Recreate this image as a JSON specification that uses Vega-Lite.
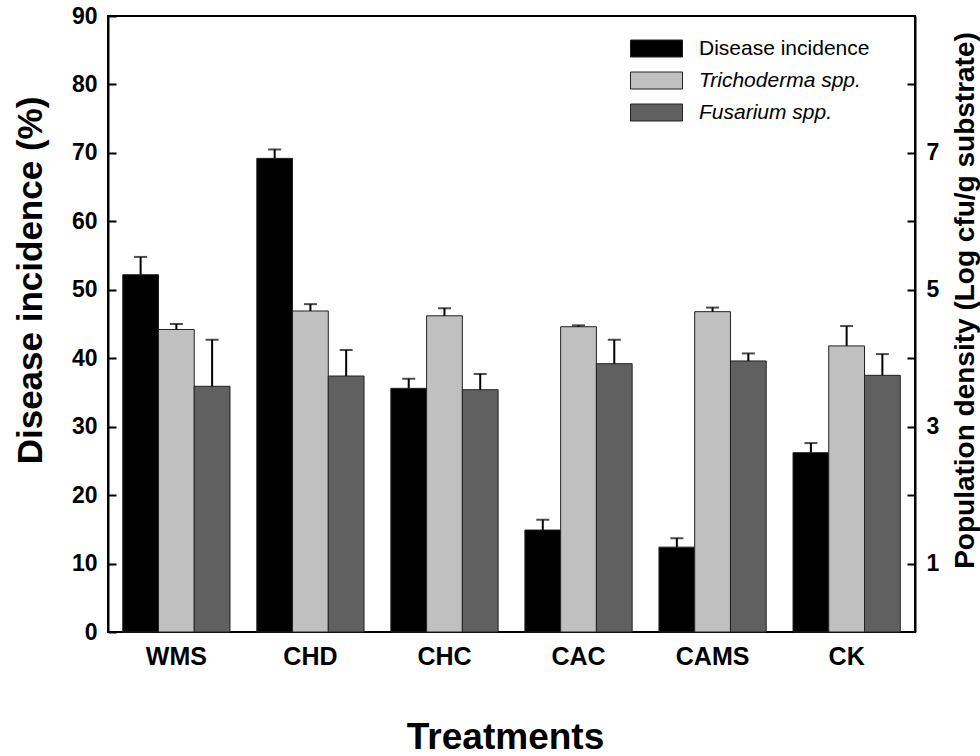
{
  "$schema": "https://vega.github.io/schema/vega-lite/v6.json",
  "width": 807,
  "height": 616,
  "autosize": "none",
  "padding": {"left": 108, "top": 16, "right": 65, "bottom": 124},
  "background": "white",
  "config": {
    "view": {"stroke": "black", "strokeWidth": 2},
    "font": "Liberation Sans"
  },
  "data": {
    "values": [
      {"treatment": "WMS", "series": "Disease incidence", "value": 52.2, "top": 54.8},
      {"treatment": "WMS", "series": "Trichoderma spp.", "value": 4.42, "top": 4.50},
      {"treatment": "WMS", "series": "Fusarium spp.", "value": 3.59, "top": 4.27},
      {"treatment": "CHD", "series": "Disease incidence", "value": 69.2, "top": 70.5},
      {"treatment": "CHD", "series": "Trichoderma spp.", "value": 4.69, "top": 4.79},
      {"treatment": "CHD", "series": "Fusarium spp.", "value": 3.74, "top": 4.12},
      {"treatment": "CHC", "series": "Disease incidence", "value": 35.6, "top": 37.0},
      {"treatment": "CHC", "series": "Trichoderma spp.", "value": 4.62, "top": 4.73},
      {"treatment": "CHC", "series": "Fusarium spp.", "value": 3.54, "top": 3.77},
      {"treatment": "CAC", "series": "Disease incidence", "value": 14.9, "top": 16.4},
      {"treatment": "CAC", "series": "Trichoderma spp.", "value": 4.46, "top": 4.48},
      {"treatment": "CAC", "series": "Fusarium spp.", "value": 3.92, "top": 4.27},
      {"treatment": "CAMS", "series": "Disease incidence", "value": 12.4, "top": 13.7},
      {"treatment": "CAMS", "series": "Trichoderma spp.", "value": 4.68, "top": 4.74},
      {"treatment": "CAMS", "series": "Fusarium spp.", "value": 3.96, "top": 4.07},
      {"treatment": "CK", "series": "Disease incidence", "value": 26.2, "top": 27.6},
      {"treatment": "CK", "series": "Trichoderma spp.", "value": 4.18, "top": 4.47},
      {"treatment": "CK", "series": "Fusarium spp.", "value": 3.75, "top": 4.06}
    ]
  },
  "encoding": {
    "x": {
      "field": "treatment",
      "type": "nominal",
      "sort": ["WMS", "CHD", "CHC", "CAC", "CAMS", "CK"],
      "scale": {"paddingInner": 0.2, "paddingOuter": 0.11},
      "axis": {
        "title": "Treatments",
        "labelAngle": 0,
        "ticks": false,
        "domain": false,
        "labelFontSize": 25,
        "labelFontWeight": "bold",
        "labelColor": "black",
        "labelPadding": 12,
        "titleFontSize": 37,
        "titleFontWeight": "bold",
        "titleColor": "black",
        "titlePadding": 50,
        "titleX": 397
      }
    },
    "xOffset": {
      "field": "series",
      "type": "nominal",
      "scale": {"domain": ["Disease incidence", "Trichoderma spp.", "Fusarium spp."], "paddingInner": 0, "paddingOuter": 0}
    }
  },
  "layer": [
    {
      "transform": [{"filter": "datum.series === 'Disease incidence'"}],
      "layer": [
        {
          "mark": {"type": "bar", "stroke": "#222222", "strokeWidth": 1},
          "encoding": {
            "y": {
              "field": "value",
              "type": "quantitative",
              "scale": {"domain": [0, 90], "nice": false},
              "axis": {
                "title": "Disease incidence (%)",
                "values": [0, 10, 20, 30, 40, 50, 60, 70, 80, 90],
                "grid": false,
                "domainColor": "black",
                "domainWidth": 2,
                "tickColor": "black",
                "tickWidth": 2,
                "tickSize": -8,
                "labelFontSize": 23,
                "labelFontWeight": "bold",
                "labelColor": "black",
                "labelPadding": 19,
                "titleFontSize": 35,
                "titleFontWeight": "bold",
                "titleColor": "black",
                "titleX": -78,
                "titleY": 264,
                "titleBaseline": "middle"
              }
            },
            "color": {
              "field": "series",
              "type": "nominal",
              "scale": {
                "domain": ["Disease incidence", "Trichoderma spp.", "Fusarium spp."],
                "range": ["#000000", "#c0c0c0", "#606060"]
              },
              "legend": {
                "title": null,
                "orient": "none",
                "legendX": 538,
                "legendY": 22,
                "padding": 0,
                "symbolType": "M-3.06,-1H3.06V1H-3.06Z",
                "symbolSize": 289,
                "symbolStrokeColor": "#222222",
                "symbolStrokeWidth": 1,
                "symbolOpacity": 1,
                "labelFontSize": 21,
                "labelColor": "black",
                "labelOffset": 32,
                "labelFontStyle": {"expr": "datum.label === 'Disease incidence' ? 'normal' : 'italic'"},
                "rowPadding": 10,
                "labelLimit": 400
              }
            }
          }
        },
        {
          "mark": {"type": "rule", "color": "black", "strokeWidth": 2},
          "encoding": {
            "y": {"field": "value", "type": "quantitative"},
            "y2": {"field": "top"}
          }
        },
        {
          "mark": {"type": "tick", "color": "black", "thickness": 2, "size": 13},
          "encoding": {
            "y": {"field": "top", "type": "quantitative"}
          }
        }
      ]
    },
    {
      "transform": [{"filter": "datum.series !== 'Disease incidence'"}],
      "layer": [
        {
          "mark": {"type": "bar", "stroke": "#222222", "strokeWidth": 1},
          "encoding": {
            "y": {
              "field": "value",
              "type": "quantitative",
              "scale": {"domain": [0, 9], "nice": false},
              "axis": {
                "orient": "right",
                "title": "Population density (Log cfu/g substrate)",
                "values": [1, 2, 3, 4, 5, 6, 7, 8],
                "format": "d",
                "labelExpr": "datum.value % 2 === 1 ? datum.label : ''",
                "grid": false,
                "domainColor": "black",
                "domainWidth": 2,
                "tickColor": "black",
                "tickWidth": 2,
                "tickSize": -8,
                "labelFontSize": 23,
                "labelFontWeight": "bold",
                "labelColor": "black",
                "labelPadding": 19,
                "titleFontSize": 28,
                "titleFontWeight": "bold",
                "titleColor": "black",
                "titleAngle": 270,
                "titleX": 50,
                "titleY": 284,
                "titleBaseline": "middle"
              }
            },
            "color": {"field": "series", "type": "nominal"}
          }
        },
        {
          "mark": {"type": "rule", "color": "black", "strokeWidth": 2},
          "encoding": {
            "y": {"field": "value", "type": "quantitative"},
            "y2": {"field": "top"}
          }
        },
        {
          "mark": {"type": "tick", "color": "black", "thickness": 2, "size": 13},
          "encoding": {
            "y": {"field": "top", "type": "quantitative"}
          }
        }
      ]
    }
  ],
  "resolve": {"scale": {"y": "independent"}}
}
